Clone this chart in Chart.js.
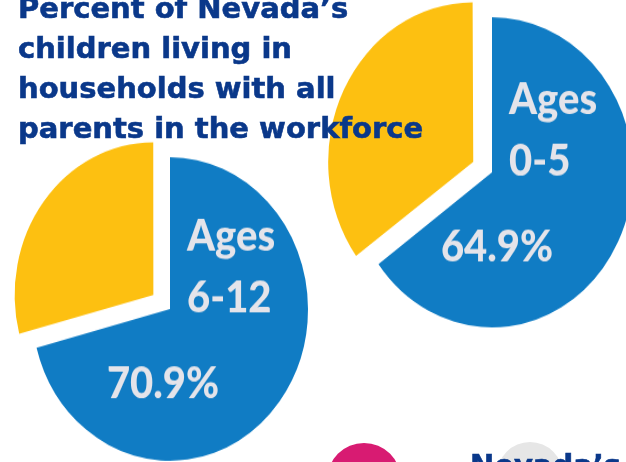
<!DOCTYPE html>
<html>
<head>
<meta charset="utf-8">
<script src="https://cdn.jsdelivr.net/npm/chart.js@4"></script>
<style>
html,body{margin:0;padding:0;background:#fff}
body{width:626px;height:462px;overflow:hidden;position:relative}
.pie{position:absolute;transform-origin:0 0;transform:scaleY(1.1)}
#pieTop{left:309px;top:-29px;width:366px;height:366px}
#pieBottom{left:-10px;top:111px;width:360px;height:360px}
#title{position:absolute;left:18px;top:-12px;margin:0;font:bold 29px "DejaVu Sans";line-height:40px;color:#0a388a;-webkit-text-stroke:0.6px #0a388a;z-index:5;white-space:nowrap}
.dot{position:absolute;border-radius:50%}
#dotPink{left:327px;top:443px;width:74px;height:74px;background:#d81b72}
#dotGray{left:497px;top:442px;width:66px;height:66px;background:#e6e6e6}
#foot{position:absolute;left:470px;top:445px;margin:0;font:bold 29px "DejaVu Sans";line-height:40px;color:#0a388a;-webkit-text-stroke:0.6px #0a388a;z-index:5;white-space:nowrap}
</style>
</head>
<body>
<div id="title">Percent of Nevada’s<br>children living in<br>households with all<br>parents in the workforce</div>
<div class="pie" id="pieTop"><canvas id="c1"></canvas></div>
<div class="pie" id="pieBottom"><canvas id="c2"></canvas></div>
<div class="dot" id="dotPink"></div>
<div class="dot" id="dotGray"></div>
<div id="foot">Nevada’s</div>
<script>
// ---- data ----
const categories = ['All parents in the workforce', 'Not all parents in the workforce'];
const ages0to5 = [64.9, 35.1];
const ages6to12 = [70.9, 29.1];
const groupTop = ['Ages', '0-5'];
const groupBottom = ['Ages', '6-12'];
const pctTop = '64.9%';
const pctBottom = '70.9%';

const BLUE = '#107cc4';
const YELLOW = '#fdc011';

const labelPlugin = {
  id: 'pieLabels',
  afterDatasetsDraw(chart, args, opts) {
    const arc = chart.getDatasetMeta(0).data[0];
    const cx = arc.x, cy = arc.y;
    const ctx = chart.ctx;
    ctx.save();
    ctx.fillStyle = '#e4e4ea';
    ctx.strokeStyle = '#e4e4ea';
    ctx.lineWidth = 0.8;
    ctx.font = '900 40px Lato';
    ctx.textBaseline = 'alphabetic';
    ctx.textAlign = 'left';
    ctx.fillText(opts.group[0], cx + 17, cy - 53);
    ctx.fillText(opts.group[1], cx + 17, cy + 3);
    ctx.textAlign = 'center';
    ctx.fillText(opts.pct, cx + opts.pctDx, cy + 81);
    ctx.restore();
  }
};

function makePie(id, values, group, pct, pctDx) {
  new Chart(document.getElementById(id), {
    type: 'pie',
    data: {
      labels: categories,
      datasets: [{
        data: values,
        backgroundColor: [BLUE, YELLOW],
        borderWidth: 0,
        offset: [0, 84],
        clip: false
      }]
    },
    options: {
      responsive: true,
      maintainAspectRatio: false,
      animation: false,
      events: [],
      layout: { padding: 0 },
      plugins: {
        legend: { display: false },
        tooltip: { enabled: false },
        pieLabels: { group: group, pct: pct, pctDx: pctDx }
      }
    },
    plugins: [labelPlugin]
  });
}

makePie('c1', ages0to5, groupTop, pctTop, 5);
makePie('c2', ages6to12, groupBottom, pctBottom, -7);
</script>
</body>
</html>
